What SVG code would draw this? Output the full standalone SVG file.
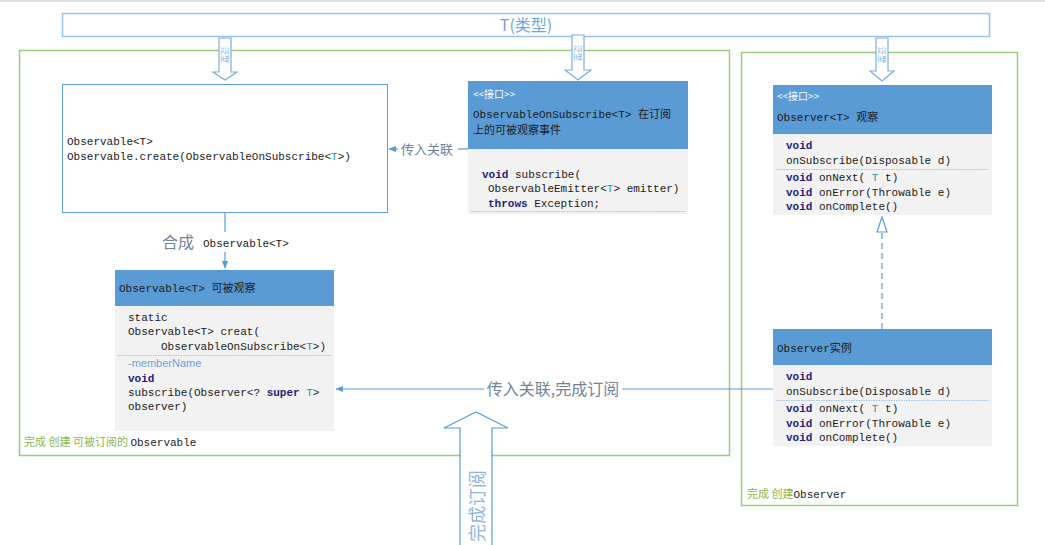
<svg xmlns="http://www.w3.org/2000/svg" width="1045" height="545" viewBox="0 0 1045 545">
<defs>
<style>
.mono{font-family:"Liberation Mono","Noto Sans CJK SC",monospace;font-size:11px;fill:#1a1a1a}
.kw{font-weight:bold;fill:#1f1f7a}
.tp{fill:#1a9aa8}
.hdr{fill:#5b9bd5}
.body{fill:#f2f2f2}
.sep{stroke:#9dc3e6;stroke-width:1;stroke-dasharray:1.5 1}
.green{fill:none;stroke:#9cc97a;stroke-width:1.5}
.lbl{font-family:"Noto Sans CJK SC","Liberation Sans",sans-serif;fill:#758296}
.gtxt{font-family:"Noto Sans CJK SC",sans-serif;font-size:11px;fill:#8ab54e}
.con{stroke:#5b9bd5;stroke-width:1.2;fill:none}
.blk{fill:#fff;stroke:#7aaee0;stroke-width:1.2}
.blktxt{font-family:"Noto Sans CJK SC",sans-serif;font-size:8px;fill:#7aaee0}
</style>
<marker id="arr" viewBox="0 0 10 10" refX="9" refY="5" markerWidth="8" markerHeight="8" orient="auto-start-reverse" markerUnits="userSpaceOnUse">
<path d="M0,1 L10,5 L0,9 z" fill="#5b9bd5"/>
</marker>
</defs>
<rect width="1045" height="545" fill="#fff"/>
<rect x="0" y="0" width="1045" height="2" fill="#e0e0e0"/>

<g id="containers">
<rect class="green" x="19.5" y="50.5" width="710" height="405"/>
<rect class="green" x="741.5" y="52.5" width="276" height="453"/>
<text class="gtxt" x="24" y="446">完成 创建 可被订阅的 <tspan style="font-family:'Liberation Mono',monospace;fill:#1a1a1a">Observable</tspan></text>
<text class="gtxt" x="747" y="498">完成 创建<tspan style="font-family:'Liberation Mono',monospace;fill:#1a1a1a">Observer</tspan></text>
</g>

<g id="type">
<rect x="62.5" y="13.5" width="927" height="23" fill="#fff" stroke="#9dc3e6" stroke-width="1.5"/>
<text x="526" y="31" text-anchor="middle" style="font-family:'Noto Sans CJK SC','Liberation Sans',sans-serif;font-size:16px;fill:#6aa5dc">T(类型)</text>
</g>

<g id="type-arrows">
<path class="blk" d="M219,38 H231 V72 H237 L225,80 L213,72 H219 Z"/>
<text class="blktxt" transform="translate(222,47) rotate(90)">泛型</text>
<path class="blk" d="M572,35 H584 V70 H591 L578,80 L565,70 H572 Z"/>
<text class="blktxt" transform="translate(575,45) rotate(90)">泛型</text>
<path class="blk" d="M876,38 H888 V71 H894 L882,81 L870,71 H876 Z"/>
<text class="blktxt" transform="translate(879,47) rotate(90)">泛型</text>
</g>

<g id="observable-create">
<rect x="62.5" y="84.5" width="325" height="128" fill="#fff" stroke="#5b9bd5" stroke-width="1"/>
<text class="mono" x="67" y="145">Observable&lt;T&gt;</text>
<text class="mono" x="67" y="160">Observable.create(ObservableOnSubscribe&lt;<tspan class="tp">T</tspan>&gt;)</text>
</g>

<g id="on-subscribe">
<rect class="hdr" x="468" y="81" width="220" height="68"/>
<rect class="body" x="468" y="149" width="220" height="65"/>
<text x="473" y="98" style="font-family:'Noto Sans CJK SC',sans-serif;font-size:10px;fill:#fff">&lt;&lt;接口&gt;&gt;</text>
<text class="mono" x="473" y="118">ObservableOnSubscribe&lt;T&gt; 在订阅</text>
<text class="mono" x="473" y="134">上的可被观察事件</text>
<text class="mono" x="482" y="178"><tspan class="kw">void</tspan> subscribe(</text>
<text class="mono" x="488" y="192">ObservableEmitter&lt;<tspan class="tp">T</tspan>&gt; emitter)</text>
<text class="mono" x="488" y="207"><tspan class="kw">throws</tspan> Exception;</text>
<line class="sep" x1="471" y1="211.5" x2="685" y2="211.5"/>
</g>

<g id="observable">
<rect class="hdr" x="115" y="270" width="219" height="36"/>
<rect class="body" x="115" y="306" width="219" height="125"/>
<text class="mono" x="119" y="292">Observable&lt;T&gt; 可被观察</text>
<text class="mono" x="128" y="321">static</text>
<text class="mono" x="128" y="335">Observable&lt;T&gt; creat(</text>
<text class="mono" x="161" y="350">ObservableOnSubscribe&lt;<tspan class="tp">T</tspan>&gt;)</text>
<line class="sep" x1="118" y1="355.5" x2="331" y2="355.5"/>
<text x="128" y="367" style="font-family:'Liberation Sans',sans-serif;font-size:11px;fill:#6fa0d8">-memberName</text>
<text class="mono kw" x="128" y="382">void</text>
<text class="mono" x="128" y="396">subscribe(Observer&lt;? <tspan class="kw">super</tspan> <tspan class="tp">T</tspan>&gt;</text>
<text class="mono" x="128" y="410">observer)</text>
</g>

<g id="observer">
<rect class="hdr" x="773" y="85" width="219" height="49"/>
<rect class="body" x="773" y="134" width="219" height="81"/>
<text x="777" y="100" style="font-family:'Noto Sans CJK SC',sans-serif;font-size:10px;fill:#fff">&lt;&lt;接口&gt;&gt;</text>
<text class="mono" x="777" y="121">Observer&lt;T&gt; 观察</text>
<text class="mono kw" x="786" y="149">void</text>
<text class="mono" x="786" y="164">onSubscribe(Disposable d)</text>
<line class="sep" x1="776" y1="169.5" x2="989" y2="169.5"/>
<text class="mono" x="786" y="181"><tspan class="kw">void</tspan> onNext( <tspan class="tp">T</tspan> t)</text>
<text class="mono" x="786" y="196"><tspan class="kw">void</tspan> onError(Throwable e)</text>
<text class="mono" x="786" y="210"><tspan class="kw">void</tspan> onComplete()</text>
</g>

<g id="observer-impl">
<rect class="hdr" x="773" y="329" width="219" height="36"/>
<rect class="body" x="773" y="365" width="219" height="81"/>
<text class="mono" x="777" y="352">Observer实例</text>
<text class="mono kw" x="786" y="380">void</text>
<text class="mono" x="786" y="395">onSubscribe(Disposable d)</text>
<line class="sep" x1="776" y1="400.5" x2="989" y2="400.5"/>
<text class="mono" x="786" y="412"><tspan class="kw">void</tspan> onNext( <tspan class="tp">T</tspan> t)</text>
<text class="mono" x="786" y="427"><tspan class="kw">void</tspan> onError(Throwable e)</text>
<text class="mono" x="786" y="441"><tspan class="kw">void</tspan> onComplete()</text>
</g>

<g id="subscribe-arrow">
<path d="M460,545 V428 H444 L476,412 L508,428 H492 V545" fill="#fff" stroke="#5b9bd5" stroke-width="1.2"/>
<text transform="translate(484,542) rotate(-90)" style="font-family:'Noto Sans CJK SC',sans-serif;font-size:18px;fill:#8fb6e0">完成订阅</text>
</g>

<g id="connectors">
<line class="con" x1="225" y1="213" x2="225" y2="232"/>
<line class="con" x1="225" y1="252" x2="225" y2="268" marker-end="url(#arr)"/>
<text class="lbl" x="162" y="248" style="font-size:16px">合成</text>
<text class="mono" x="203" y="247">Observable&lt;T&gt;</text>

<line class="con" x1="468" y1="149" x2="458" y2="149"/>
<line class="con" x1="398" y1="149" x2="389" y2="149" marker-end="url(#arr)"/>
<text class="lbl" x="401" y="154" style="font-size:13px">传入关联</text>

<line class="con" x1="773" y1="389" x2="622" y2="389"/>
<line class="con" x1="484" y1="389" x2="336" y2="389" marker-end="url(#arr)"/>
<text class="lbl" x="553" y="395" text-anchor="middle" style="font-size:16px">传入关联,完成订阅</text>

<line x1="882" y1="329" x2="882" y2="232" stroke="#5b9bd5" stroke-width="1.2" stroke-dasharray="6 4"/>
<path d="M882,217 L887,232 L877,232 z" fill="#fff" stroke="#5b9bd5" stroke-width="1.2"/>
</g>
</svg>
